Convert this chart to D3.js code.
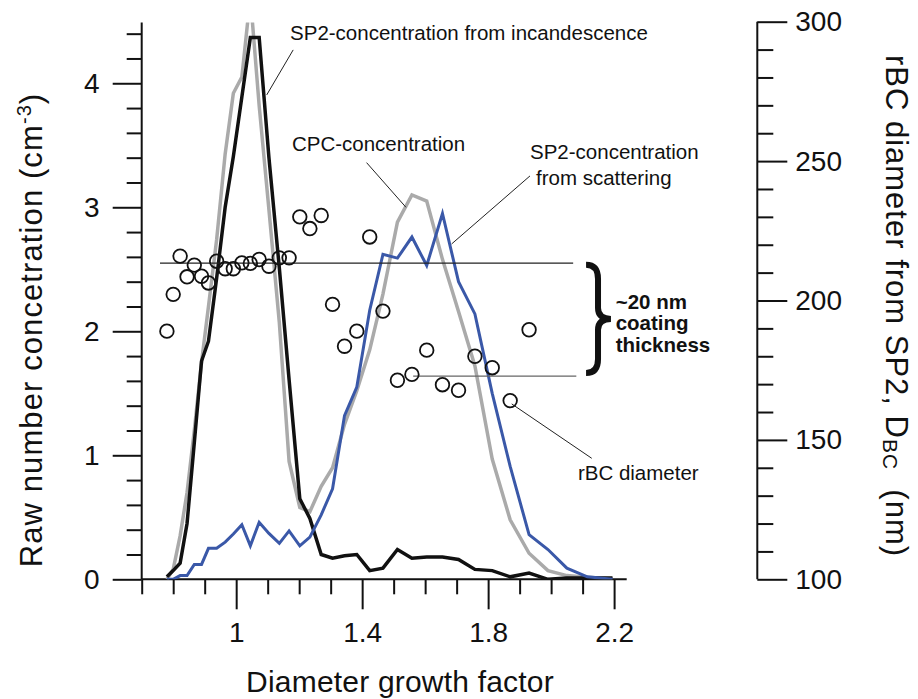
<!DOCTYPE html>
<html>
<head>
<meta charset="utf-8">
<script src="https://cdn.jsdelivr.net/npm/d3@7"></script>
<style>
  body { margin: 0; background: #fff; }
  text { font-family: "Liberation Sans", Arial, Helvetica, sans-serif; fill: #111; }
</style>
</head>
<body>
<svg id="plot" width="918" height="699"></svg>
<script>
////////////////////////////////////////////////////////////////
// Data

// diameter growth factor bins (shared by all series)
let gf = [0.78, 0.80, 0.822, 0.844, 0.867, 0.89, 0.912, 0.938, 0.965, 0.991,
          1.018, 1.045, 1.073, 1.104, 1.137, 1.168, 1.202, 1.234, 1.27, 1.306,
          1.344, 1.383, 1.424, 1.466, 1.512, 1.558, 1.605, 1.655, 1.706, 1.758,
          1.813, 1.87, 1.93, 1.99, 2.05, 2.115, 2.195]

// CPC-concentration (grey)
let cpc = [0.0, 0.08, 0.35, 0.7, 1.2, 1.75, 2.2, 2.74, 3.43, 3.92,
           4.05, 4.7, 3.82, 2.98, 2.07, 0.95, 0.58, 0.545, 0.75, 0.9,
           1.25, 1.52, 1.85, 2.3, 2.88, 3.10, 3.05, 2.58, 2.16, 1.72,
           0.97, 0.48, 0.21, 0.07, 0.03, 0.016, 0.005]

// SP2-concentration from incandescence (black)
let sp2Inc = [0.02, 0.07, 0.13, 0.45, 1.1, 1.76, 1.92, 2.43, 3.0, 3.41,
              3.89, 4.37, 4.37, 3.40, 2.51, 1.61, 0.65, 0.49, 0.2, 0.17,
              0.19, 0.2, 0.07, 0.09, 0.24, 0.17, 0.18, 0.18, 0.16, 0.08,
              0.07, 0.02, 0.05, 0.0, 0.01, 0.01, 0.01]

// SP2-concentration from scattering (blue)
let sp2Sca = [0, 0, 0.03, 0.03, 0.12, 0.12, 0.25, 0.25, 0.30, 0.365,
              0.44, 0.27, 0.46, 0.37, 0.29, 0.39, 0.27, 0.34, 0.52, 0.73,
              1.32, 1.55, 2.17, 2.62, 2.59, 2.76, 2.53, 2.95, 2.40, 2.14,
              1.5, 0.91, 0.36, 0.24, 0.09, 0.02, 0.0]

// rBC diameter (nm, right axis), first 33 bins
let rbc = [189.0, 202.2, 215.9, 208.5, 212.7, 208.7, 206.3, 214.1, 211.4, 211.4,
           213.5, 213.3, 214.7, 212.3, 215.3, 215.3, 230.0, 225.8, 230.5, 198.6,
           183.6, 189.0, 222.8, 196.2, 171.4, 173.5, 182.2, 169.8, 167.8, 180.0,
           175.9, 164.1, 189.5]

// coating reference levels (nm) and their extent in growth factor
let coatLevel = [213.4, 172.9]
let coatFrom  = [0.758, 1.562]
let coatTo    = [2.07, 2.08]
let coatColor = ["#222", "#666"]

let xTicksMajor = [1.0, 1.4, 1.8, 2.2]
let yTicksMajor = [0, 1, 2, 3, 4]
let rTicksMajor = [100, 150, 200, 250, 300]

////////////////////////////////////////////////////////////////
// Scales

let svg = d3.select("#plot")

let xScale = d3.scaleLinear().domain([0.7, 2.24]).range([141.7, 626.7])
let yScale = d3.scaleLinear().domain([0, 4.49]).range([579.3, 22.5])
let rScale = d3.scaleLinear().domain([100, 300]).range([579.3, 21.7])

////////////////////////////////////////////////////////////////
// Axes (minor + major tick sets)

function styleAxis(g, size) {
  g.select(".domain").remove()
  g.selectAll("line").attr("stroke", "#111").attr("stroke-width", 2)
  g.selectAll("text").attr("font-size", size)
    .attr("font-family", '"Liberation Sans", Arial, sans-serif').attr("fill", "#111")
}

// x axis
let xMinor = d3.range(7, 23).map(d => d / 10).filter(d => !xTicksMajor.some(m => Math.abs(m - d) < 1e-6))
svg.append("g").attr("transform", "translate(0,579.3)")
  .call(d3.axisBottom(xScale).tickValues(xMinor).tickSize(15).tickFormat(""))
  .call(g => styleAxis(g, 28))
svg.append("g").attr("transform", "translate(0,579.3)")
  .call(d3.axisBottom(xScale).tickValues(xTicksMajor).tickSize(30).tickPadding(13)
        .tickFormat(d3.format("~g")))
  .call(g => styleAxis(g, 28))

// left axis
let yMinor = d3.range(0, 23).map(d => d / 5).filter(d => d % 1 !== 0)
svg.append("g").attr("transform", "translate(141.7,0)")
  .call(d3.axisLeft(yScale).tickValues(yMinor).tickSize(15).tickFormat(""))
  .call(g => styleAxis(g, 28))
svg.append("g").attr("transform", "translate(141.7,0)")
  .call(d3.axisLeft(yScale).tickValues(yTicksMajor).tickSize(29).tickPadding(13)
        .tickFormat(d3.format("d")))
  .call(g => styleAxis(g, 28))

// right axis
let rMinor = d3.range(100, 301, 10).filter(d => d % 50 !== 0)
svg.append("g").attr("transform", "translate(757.3,0)")
  .call(d3.axisRight(rScale).tickValues(rMinor).tickSize(16).tickFormat(""))
  .call(g => styleAxis(g, 28))
svg.append("g").attr("transform", "translate(757.3,0)")
  .call(d3.axisRight(rScale).tickValues(rTicksMajor).tickSize(30).tickPadding(8))
  .call(g => styleAxis(g, 28))

// axis lines
let axisLines = [
  [[xScale.range()[0], yScale(0)], [xScale.range()[1], yScale(0)]],
  [[xScale.range()[0], yScale(0)], [xScale.range()[0], yScale.range()[1]]],
  [[757.3, rScale(100)], [757.3, rScale(300)]]
]
svg.selectAll("path.axisline").data(axisLines).enter().append("path")
  .attr("class", "axisline")
  .attr("d", d3.line())
  .attr("stroke", "#111").attr("stroke-width", 2).attr("fill", "none")

// axis titles
svg.append("text")
  .attr("x", 400).attr("y", 692).attr("text-anchor", "middle")
  .attr("font-size", 30).attr("letter-spacing", 0.2)
  .text("Diameter growth factor")

let lt = svg.append("text")
  .attr("transform", "translate(42,330) rotate(-90)")
  .attr("text-anchor", "middle").attr("font-size", 31).attr("letter-spacing", 1.1)
lt.append("tspan").text("Raw number concetration (cm")
lt.append("tspan").attr("font-size", 20).attr("dy", -11).text("-3")
lt.append("tspan").attr("dy", 11).text(")")

let rt = svg.append("text")
  .attr("transform", "translate(886,306) rotate(90)")
  .attr("text-anchor", "middle").attr("font-size", 31).attr("letter-spacing", 1)
rt.append("tspan").text("rBC diameter from SP2, D")
rt.append("tspan").attr("font-size", 21).attr("dy", 3).text("BC")
rt.append("tspan").attr("dy", -3).text("\u00a0 (nm)")

////////////////////////////////////////////////////////////////
// Lines

svg.append("clipPath").attr("id", "clip")
  .append("rect").attr("x", xScale.range()[0]).attr("y", yScale.range()[1])
  .attr("width", xScale.range()[1] - xScale.range()[0])
  .attr("height", yScale.range()[0] - yScale.range()[1])

let line = d3.line().x(p => xScale(p[0])).y(p => yScale(p[1]))

let series = [
  { vals: cpc,    color: "#aaaaaa", width: 3.5 },
  { vals: sp2Inc, color: "#111111", width: 3.5 },
  { vals: sp2Sca, color: "#3a58a8", width: 3 }
]

svg.append("g").attr("clip-path", "url(#clip)")
  .selectAll("path")
  .data(series)
  .enter()
  .append("path")
  .attr("d", s => line(gf.map((x, i) => [x, s.vals[i]])))
  .attr("stroke", s => s.color)
  .attr("stroke-width", s => s.width)
  .attr("stroke-linejoin", "miter")
  .attr("fill", "none")

// coating reference lines
svg.selectAll("line.coat")
  .data(coatLevel)
  .enter()
  .append("line")
  .attr("class", "coat")
  .attr("x1", (d, i) => xScale(coatFrom[i]))
  .attr("x2", (d, i) => xScale(coatTo[i]))
  .attr("y1", d => rScale(d))
  .attr("y2", d => rScale(d))
  .attr("stroke", (d, i) => coatColor[i])
  .attr("stroke-width", 1.2)

// rBC diameter circles
svg.selectAll("circle")
  .data(rbc)
  .enter()
  .append("circle")
  .attr("cx", (d, i) => xScale(gf[i]))
  .attr("cy", d => rScale(d))
  .attr("r", 6.8)
  .attr("fill", "none")
  .attr("stroke", "#111")
  .attr("stroke-width", 1.8)

////////////////////////////////////////////////////////////////
// Annotations (data coordinates)

let leaders = [
  [[1.181, 4.269], [1.097, 3.906]],
  [[1.414, 3.36], [1.539, 3.0]],
  [[1.933, 3.253], [1.684, 2.704]]
]
svg.selectAll("path.leader")
  .data(leaders)
  .enter()
  .append("path")
  .attr("class", "leader")
  .attr("d", line)
  .attr("stroke", "#222").attr("stroke-width", 1).attr("fill", "none")

// rBC leader uses the right axis
svg.append("line")
  .attr("x1", xScale(1.875)).attr("y1", rScale(162.9))
  .attr("x2", xScale(2.129)).attr("y2", rScale(143.4))
  .attr("stroke", "#222").attr("stroke-width", 1)

let labels = [
  { x: 1.171, y: 4.405, t: "SP2-concentration from incandescence" },
  { x: 1.177, y: 3.511, t: "CPC-concentration" },
  { x: 1.933, y: 3.446, t: "SP2-concentration" },
  { x: 1.952, y: 3.236, t: "from scattering" },
  { x: 2.085, y: 0.857, t: "rBC diameter" }
]
svg.selectAll("text.lab")
  .data(labels)
  .enter()
  .append("text")
  .attr("class", "lab")
  .attr("x", d => xScale(d.x))
  .attr("y", d => yScale(d.y))
  .attr("dy", "0.35em")
  .attr("font-size", 20.5)
  .attr("fill", "#222")
  .text(d => d.t)

// brace for coating thickness
let bx = xScale(2.111), tip = xScale(2.19)
let bTop = rScale(212.8), bBot = rScale(174.0)
let bMid = (bTop + bBot) / 2, st = bx + (tip - bx) * 0.48, hh = bBot - bTop
svg.append("path")
  .attr("d", `M${bx},${bTop} Q${st},${bTop} ${st},${bTop + hh * 0.13}
              L${st},${bMid - hh * 0.1} Q${st},${bMid} ${tip},${bMid}
              Q${st},${bMid} ${st},${bMid + hh * 0.1}
              L${st},${bBot - hh * 0.13} Q${st},${bBot} ${bx},${bBot}`)
  .attr("stroke", "#111").attr("stroke-width", 6).attr("fill", "none")

let coatText = ["~20 nm", "coating", "thickness"]
let coatTextY = [196.8, 189.3, 181.7]
svg.selectAll("text.coat")
  .data(coatText)
  .enter()
  .append("text")
  .attr("class", "coat")
  .attr("x", xScale(2.205))
  .attr("y", (d, i) => rScale(coatTextY[i]))
  .attr("font-size", 20.5)
  .attr("font-weight", "bold")
  .text(d => d)
</script>
</body>
</html>
